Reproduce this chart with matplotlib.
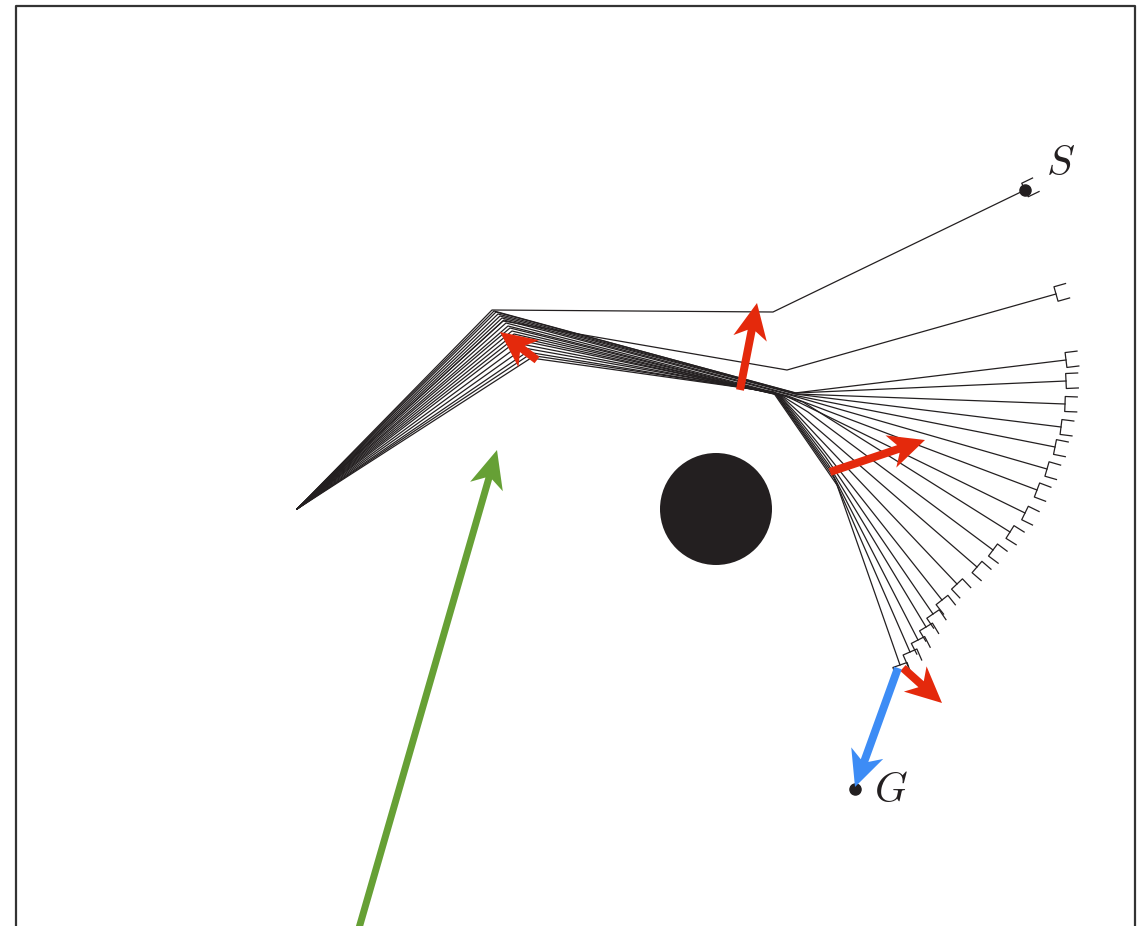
import numpy as np
import matplotlib
matplotlib.use("Agg")
from matplotlib import pyplot as plt
from matplotlib.patches import Polygon, Circle

plt.rcParams['mathtext.fontset'] = 'cm'

# start of all paths
start = (297, 509)
# one entry per path: apex, middle point, optional bend, end (gripper)
apex_x = [492, 503, 494, 496, 498, 500, 502, 504, 506, 508, 510, 512, 514, 516, 518, 521, 524, 527, 529, 531]
apex_y = [310, 321, 311, 312, 314, 316, 318, 320, 323, 326, 328, 331, 334, 337, 340, 344, 348, 352, 355, 358]
mid_x = [773, 787, 795, 796, 797, 795, 793, 790, 788, 786, 784, 782, 780, 779, 778, 777, 776, 775, 774, 773]
mid_y = [312, 370, 393, 393, 394, 394, 395, 395, 396, 396, 396, 396, 395, 395, 394, 394, 393, 393, 392, 392]
bend_x = [np.nan] * 10 + [803, 808, 812, 817, 821, 825, 828, 831, 834, 837]
bend_y = [np.nan] * 10 + [402, 412, 424, 436, 447, 456, 464, 471, 478, 485]
end_x = [1025, 1056, 1066, 1066, 1065, 1061, 1055, 1047, 1037, 1025, 1010, 993, 977, 957, 942, 933, 926, 918, 910, 900]
end_y = [190, 294, 360, 381, 404, 427, 447, 469, 490, 513, 532, 550, 567, 584, 600, 614, 627, 640, 652, 665]

# obstacle
obst_c = (716, 509)
obst_r = 56

# force arrows (tail -> tip)
red_tail = [(740, 390), (830, 472), (903, 668), (537, 360)]
red_tip = [(757, 303), (925, 440), (942, 703), (500, 332)]
green_tail, green_tip = (357, 935), (497, 450)
blue_tail, blue_tip = (898, 668), (855, 787)

goal = (855, 789)


def arrow(ax, t, h, color, w=8, hl=36, hw=34):
    t = np.array(t, float)
    h = np.array(h, float)
    u = (h - t) / np.linalg.norm(h - t)
    n = np.array([-u[1], u[0]])
    base = h - u * hl
    inner = h - u * hl * 0.78
    pts = [t + n * w / 2, inner + n * w / 2, base + n * hw / 2, h,
           base - n * hw / 2, inner - n * w / 2, t - n * w / 2]
    ax.add_patch(Polygon(pts, closed=True, fc=color, ec='none', zorder=5))


def gripper(ax, prev, e, h=7.5, L=12):
    prev = np.array(prev, float)
    e = np.array(e, float)
    d = (e - prev) / np.linalg.norm(e - prev)
    n = np.array([-d[1], d[0]])
    pts = np.array([e + n * h + d * L, e + n * h, e - n * h, e - n * h + d * L])
    ax.plot(pts[:, 0], pts[:, 1], color='#231f20', lw=0.9, zorder=3)


fig = plt.figure(figsize=(11.48, 9.26), dpi=100)
ax = fig.add_axes([0, 0, 1, 1])
ax.set_xlim(0, 1148)
ax.set_ylim(926, 0)
ax.axis('off')

# frame
ax.plot([16, 16, 1135, 1135], [930, 6, 6, 930], color='#333333', lw=1.6)

for i in range(len(end_x)):
    xs = [start[0], apex_x[i], mid_x[i]]
    ys = [start[1], apex_y[i], mid_y[i]]
    if not np.isnan(bend_x[i]):
        xs.append(bend_x[i])
        ys.append(bend_y[i])
    xs.append(end_x[i])
    ys.append(end_y[i])
    ax.plot(xs, ys, color='#231f20', lw=0.9, zorder=2)
    gripper(ax, (xs[-2], ys[-2]), (end_x[i], end_y[i]))

ax.add_patch(Circle(obst_c, obst_r, fc='#231f20', ec='none', zorder=4))

# start / goal markers
ax.plot(end_x[0], end_y[0], 'o', color='#231f20', ms=8, zorder=4)
ax.plot(goal[0], goal[1], 'o', color='#231f20', ms=8, zorder=4)
ax.text(1060, 163, '$S$', fontsize=30, ha='center', va='center', color='#231f20')
ax.text(891, 790, '$G$', fontsize=30, ha='center', va='center', color='#231f20')

for t, h in zip(red_tail, red_tip):
    arrow(ax, t, h, '#e4290c')
arrow(ax, green_tail, green_tip, '#66a035', w=7, hl=38)
arrow(ax, blue_tail, blue_tip, '#3d8cf5')

fig.savefig('out.png', dpi=100)
